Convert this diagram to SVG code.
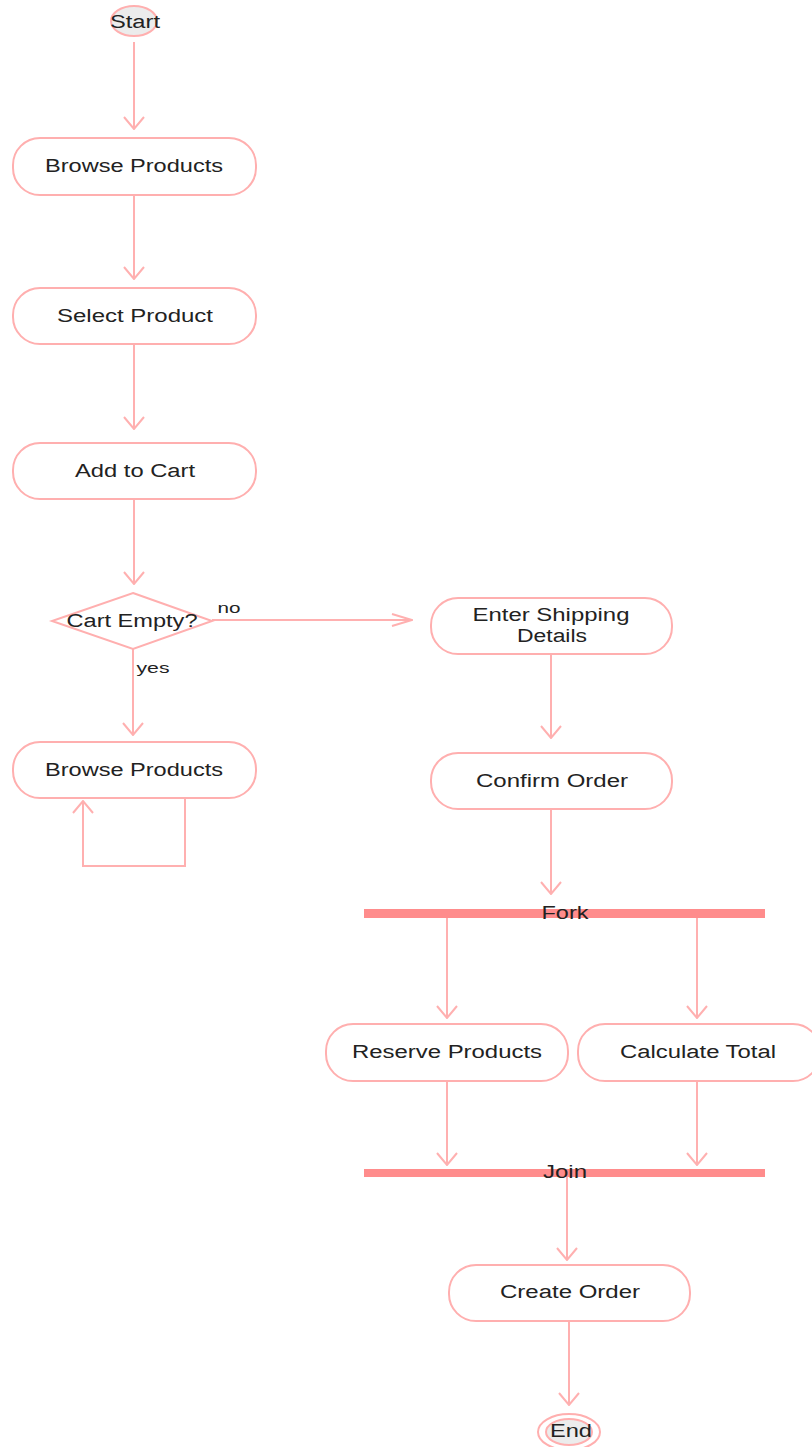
<svg xmlns="http://www.w3.org/2000/svg" width="812" height="1447" viewBox="0 0 812 1447">
<style>
.n{fill:#fff;stroke:#ffafaf;stroke-width:2}
.c{fill:none;stroke:#ffb0b0;stroke-width:2}
.t{font-family:"Liberation Sans",Arial,sans-serif;font-size:18px;fill:#222;text-anchor:middle}
.l{font-family:"Liberation Sans",Arial,sans-serif;font-size:14px;fill:#222;text-anchor:middle}
.bar{fill:#ff8c8c}
.ci{fill:#ececec;stroke:#ffafaf;stroke-width:2}
.ah{fill:none;stroke:#ffb0b0;stroke-width:2}
</style>
<defs>
<marker id="a" viewBox="0 0 14 22" refX="13" refY="11" markerWidth="14" markerHeight="22" markerUnits="userSpaceOnUse" orient="auto">
<path class="ah" d="M1,1 L13,11 L1,21"/>
</marker>
<marker id="h" viewBox="0 0 22 14" refX="21" refY="7" markerWidth="22" markerHeight="14" markerUnits="userSpaceOnUse" orient="auto">
<path class="ah" d="M1,1 L21,7 L1,13"/>
</marker>
</defs>
<g id="connectors">
<line class="c" x1="134" y1="42" x2="134" y2="129" marker-end="url(#a)"/>
<line class="c" x1="134" y1="195" x2="134" y2="279" marker-end="url(#a)"/>
<line class="c" x1="134" y1="344" x2="134" y2="429" marker-end="url(#a)"/>
<line class="c" x1="134" y1="499" x2="134" y2="584" marker-end="url(#a)"/>
<line class="c" x1="212" y1="620" x2="412" y2="620" marker-end="url(#h)"/>
<text class="l" x="229" y="613" textLength="23" lengthAdjust="spacingAndGlyphs">no</text>
<line class="c" x1="133" y1="649" x2="133" y2="735" marker-end="url(#a)"/>
<text class="l" x="153" y="673" textLength="33" lengthAdjust="spacingAndGlyphs">yes</text>
<polyline class="c" points="185,798 185,866 83,866 83,801" marker-end="url(#a)"/>
<line class="c" x1="551" y1="654" x2="551" y2="738" marker-end="url(#a)"/>
<line class="c" x1="551" y1="809" x2="551" y2="894" marker-end="url(#a)"/>
<line class="c" x1="447" y1="918" x2="447" y2="1018" marker-end="url(#a)"/>
<line class="c" x1="697" y1="918" x2="697" y2="1018" marker-end="url(#a)"/>
<line class="c" x1="447" y1="1081" x2="447" y2="1165" marker-end="url(#a)"/>
<line class="c" x1="697" y1="1081" x2="697" y2="1165" marker-end="url(#a)"/>
<line class="c" x1="567" y1="1177" x2="567" y2="1260" marker-end="url(#a)"/>
<line class="c" x1="569" y1="1321" x2="569" y2="1405" marker-end="url(#a)"/>
</g>
<g id="start">
<ellipse class="ci" cx="134" cy="21" rx="23" ry="15"/>
<text class="t" x="135" y="28" textLength="50" lengthAdjust="spacingAndGlyphs">Start</text>
</g>
<g id="browse1">
<rect class="n" x="13" y="138" width="243" height="57" rx="27"/>
<text class="t" x="134" y="172" textLength="178" lengthAdjust="spacingAndGlyphs">Browse Products</text>
</g>
<g id="select">
<rect class="n" x="13" y="288" width="243" height="56" rx="27"/>
<text class="t" x="135" y="322" textLength="156" lengthAdjust="spacingAndGlyphs">Select Product</text>
</g>
<g id="addcart">
<rect class="n" x="13" y="443" width="243" height="56" rx="27"/>
<text class="t" x="135" y="477" textLength="120" lengthAdjust="spacingAndGlyphs">Add to Cart</text>
</g>
<g id="decision">
<polygon class="n" points="133,593 212,621 133,649 52,621"/>
<text class="t" x="132" y="627" textLength="131" lengthAdjust="spacingAndGlyphs">Cart Empty?</text>
</g>
<g id="browse2">
<rect class="n" x="13" y="742" width="243" height="56" rx="27"/>
<text class="t" x="134" y="776" textLength="178" lengthAdjust="spacingAndGlyphs">Browse Products</text>
</g>
<g id="shipping">
<rect class="n" x="431" y="598" width="241" height="56" rx="27"/>
<text class="t" x="551" y="621" textLength="157" lengthAdjust="spacingAndGlyphs">Enter Shipping</text>
<text class="t" x="552" y="642" textLength="70" lengthAdjust="spacingAndGlyphs">Details</text>
</g>
<g id="confirm">
<rect class="n" x="431" y="753" width="241" height="56" rx="27"/>
<text class="t" x="552" y="787" textLength="152" lengthAdjust="spacingAndGlyphs">Confirm Order</text>
</g>
<g id="fork">
<rect class="bar" x="364" y="909" width="401" height="9"/>
<text class="t" x="565" y="919" textLength="47" lengthAdjust="spacingAndGlyphs">Fork</text>
</g>
<g id="reserve">
<rect class="n" x="326" y="1024" width="242" height="57" rx="27"/>
<text class="t" x="447" y="1058" textLength="190" lengthAdjust="spacingAndGlyphs">Reserve Products</text>
</g>
<g id="calculate">
<rect class="n" x="578" y="1024" width="242" height="57" rx="27"/>
<text class="t" x="698" y="1058" textLength="156" lengthAdjust="spacingAndGlyphs">Calculate Total</text>
</g>
<g id="join">
<rect class="bar" x="364" y="1169" width="401" height="8"/>
<text class="t" x="565" y="1178" textLength="44" lengthAdjust="spacingAndGlyphs">Join</text>
</g>
<g id="create">
<rect class="n" x="449" y="1265" width="241" height="56" rx="27"/>
<text class="t" x="570" y="1298" textLength="140" lengthAdjust="spacingAndGlyphs">Create Order</text>
</g>
<g id="end">
<ellipse fill="#fff" stroke="#ffafaf" stroke-width="2" cx="569" cy="1432" rx="31" ry="18"/>
<ellipse class="ci" cx="569" cy="1432" rx="23" ry="13"/>
<text class="t" x="571" y="1437" textLength="42" lengthAdjust="spacingAndGlyphs">End</text>
</g>
</svg>
